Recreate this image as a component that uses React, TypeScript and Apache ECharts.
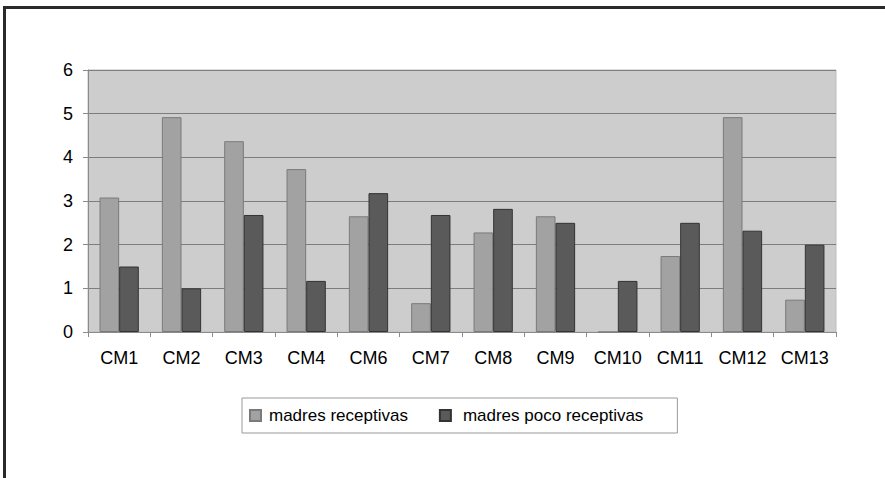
import React, { useEffect, useRef } from "react";
import * as echarts from "echarts";

const categories = ["CM1", "CM2", "CM3", "CM4", "CM6", "CM7", "CM8", "CM9", "CM10", "CM11", "CM12", "CM13"];
const receptivas = [3.08, 4.92, 4.37, 3.73, 2.65, 0.66, 2.28, 2.65, 0, 1.74, 4.92, 0.74];
const pocoReceptivas = [1.5, 1.0, 2.68, 1.17, 3.18, 2.68, 2.82, 2.5, 1.17, 2.5, 2.32, 2.0];
const yTicks = { min: 0, max: 6, interval: 1 };
const seriesNames = ["madres receptivas", "madres poco receptivas"];

const FONT = "'Liberation Sans', Arial, sans-serif";

export default function App() {
  const ref = useRef<HTMLDivElement>(null);
  useEffect(() => {
    if (!ref.current) return;
    const chart = echarts.init(ref.current, null, { renderer: "svg" });
    chart.setOption({
      animation: false,
      backgroundColor: "#ffffff",
      textStyle: { fontFamily: FONT, color: "#000" },
      grid: {
        left: 88,
        right: 49,
        top: 70,
        bottom: 146,
        show: true,
        backgroundColor: "#cdcdcd",
        borderColor: "#bdbdbd",
        borderWidth: 1,
      },
      graphic: [
        { type: "line", shape: { x1: 3, y1: 7.5, x2: 885, y2: 7.5 }, style: { stroke: "#2a2a2a", lineWidth: 3 }, z: 100 },
        { type: "line", shape: { x1: 4.5, y1: 6, x2: 4.5, y2: 478 }, style: { stroke: "#2a2a2a", lineWidth: 3 }, z: 100 },
      ],
      legend: {
        left: 242,
        top: 398,
        orient: "horizontal",
        padding: [9, 34, 9, 7],
        itemGap: 31,
        itemWidth: 11,
        itemHeight: 11,
        icon: "rect",
        borderColor: "#999999",
        borderWidth: 1,
        textStyle: { fontFamily: FONT, fontSize: 17, color: "#000" },
        data: [
          { name: seriesNames[0], textStyle: { padding: [0, 0, 0, 3] } },
          { name: seriesNames[1], textStyle: { padding: [0, 0, 0, 7] } },
        ],
      },
      xAxis: {
        type: "category",
        data: categories,
        boundaryGap: true,
        axisLine: { show: true, lineStyle: { color: "#8a8a8a", width: 1 } },
        axisTick: { show: true, length: 5, lineStyle: { color: "#8a8a8a" } },
        axisLabel: { fontFamily: FONT, fontSize: 18, color: "#000", margin: 17, interval: 0 },
      },
      yAxis: {
        type: "value",
        min: yTicks.min,
        max: yTicks.max,
        interval: yTicks.interval,
        axisLine: { show: true, lineStyle: { color: "#8a8a8a", width: 1 } },
        axisTick: { show: true, length: 5, lineStyle: { color: "#8a8a8a" } },
        axisLabel: { fontFamily: FONT, fontSize: 18, color: "#000", margin: 15 },
        splitLine: { show: true, lineStyle: { color: "#7d7d7d", width: 1 } },
      },
      series: [
        {
          name: seriesNames[0],
          type: "bar",
          data: receptivas,
          barGap: "0%",
          barCategoryGap: "37%",
          itemStyle: { color: "#a2a2a2", borderColor: "#7a7a7a", borderWidth: 1 },
        },
        {
          name: seriesNames[1],
          type: "bar",
          data: pocoReceptivas,
          barGap: "0%",
          barCategoryGap: "37%",
          itemStyle: { color: "#5a5a5a", borderColor: "#333333", borderWidth: 1 },
        },
      ],
    });
    return () => chart.dispose();
  }, []);
  return (
    <div
      ref={ref}
      style={{ position: "fixed", left: 0, top: 0, width: 885, height: 478 }}
    />
  );
}
